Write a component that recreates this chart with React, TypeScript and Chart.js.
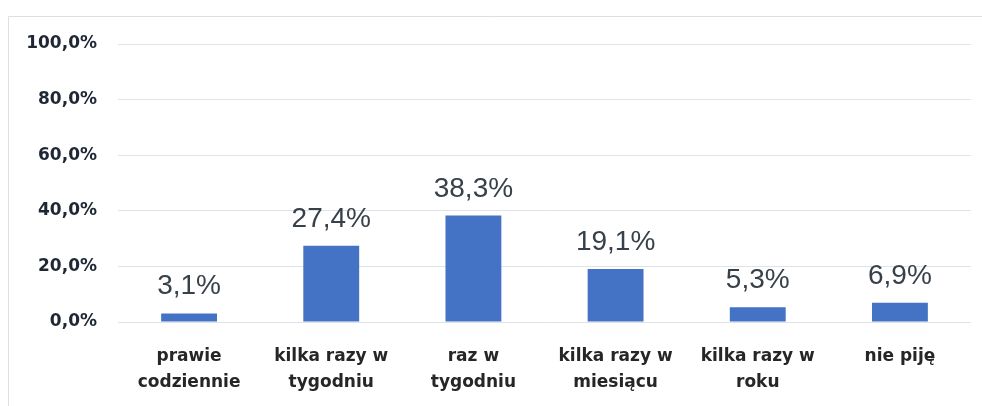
import React, { useEffect, useRef } from "react";
import { Chart, registerables } from "chart.js";

Chart.register(...registerables);

const categories: (string | string[])[] = [
  ["prawie", "codziennie"],
  ["kilka razy w", "tygodniu"],
  ["raz w", "tygodniu"],
  ["kilka razy w", "miesiącu"],
  ["kilka razy w", "roku"],
  ["nie piję"],
];
const values: number[] = [3.1, 27.4, 38.3, 19.1, 5.3, 6.9];
const yTicks: number[] = [0, 20, 40, 60, 80, 100];

const fmt = (v: number) => v.toFixed(1).replace(".", ",") + "%";

const framePlugin = {
  id: "frame",
  beforeDraw(chart: any) {
    const ctx = chart.ctx;
    ctx.save();
    ctx.fillStyle = "#ffffff";
    ctx.fillRect(0, 0, chart.width, chart.height);
    ctx.strokeStyle = "#dcdfe3";
    ctx.lineWidth = 1;
    ctx.beginPath();
    ctx.moveTo(8.5, chart.height);
    ctx.lineTo(8.5, 16.5);
    ctx.lineTo(chart.width, 16.5);
    ctx.stroke();
    ctx.restore();
  },
};

const labelPlugin = {
  id: "valueLabels",
  afterDatasetsDraw(chart: any) {
    const ctx = chart.ctx;
    const meta = chart.getDatasetMeta(0);
    ctx.save();
    ctx.font = "28px 'Liberation Sans', Arial, sans-serif";
    ctx.fillStyle = "#38404a";
    ctx.textAlign = "center";
    ctx.textBaseline = "alphabetic";
    meta.data.forEach((bar: any, i: number) => {
      ctx.fillText(fmt(values[i]), bar.x, bar.y - 19);
    });
    ctx.restore();
  },
};

export default function App() {
  const ref = useRef<HTMLCanvasElement | null>(null);
  useEffect(() => {
    if (!ref.current) return;
    const chart = new Chart(ref.current, {
      type: "bar",
      data: {
        labels: categories,
        datasets: [
          {
            data: values,
            backgroundColor: "#4472C4",
            borderWidth: 0,
            categoryPercentage: 1,
            barPercentage: 0.393,
          },
        ],
      },
      options: {
        animation: false,
        responsive: false,
        maintainAspectRatio: false,
        layout: { padding: { left: 0, top: 44, right: 11, bottom: 0 } },
        plugins: { legend: { display: false }, tooltip: { enabled: false } },
        scales: {
          x: {
            grid: { display: false, drawTicks: false },
            border: { display: false },
            ticks: {
              padding: 22,
              color: "#262626",
              maxRotation: 0,
              autoSkip: false,
              font: { family: "'DejaVu Sans', sans-serif", size: 17, weight: "bold", lineHeight: 26 / 17 },
            },
            afterFit: (s: any) => {
              s.height = 84;
            },
          },
          y: {
            min: 0,
            max: 100,
            afterBuildTicks: (s: any) => {
              s.ticks = yTicks.map((v) => ({ value: v }));
            },
            grid: { color: "#dfe2e6", lineWidth: 1, drawTicks: false },
            border: { display: false },
            ticks: {
              padding: 21,
              color: "#1e2733",
              font: { family: "'DejaVu Sans', sans-serif", size: 17, weight: "bold" },
              callback: (v: any) => fmt(Number(v)),
            },
            afterFit: (s: any) => {
              s.width = 118;
            },
          },
        },
      },
      plugins: [framePlugin, labelPlugin],
    });
    return () => chart.destroy();
  }, []);
  return (
    <div style={{ position: "fixed", left: 0, top: 0, width: 982, height: 406 }}>
      <canvas ref={ref} width={982} height={406} style={{ display: "block" }} />
    </div>
  );
}
